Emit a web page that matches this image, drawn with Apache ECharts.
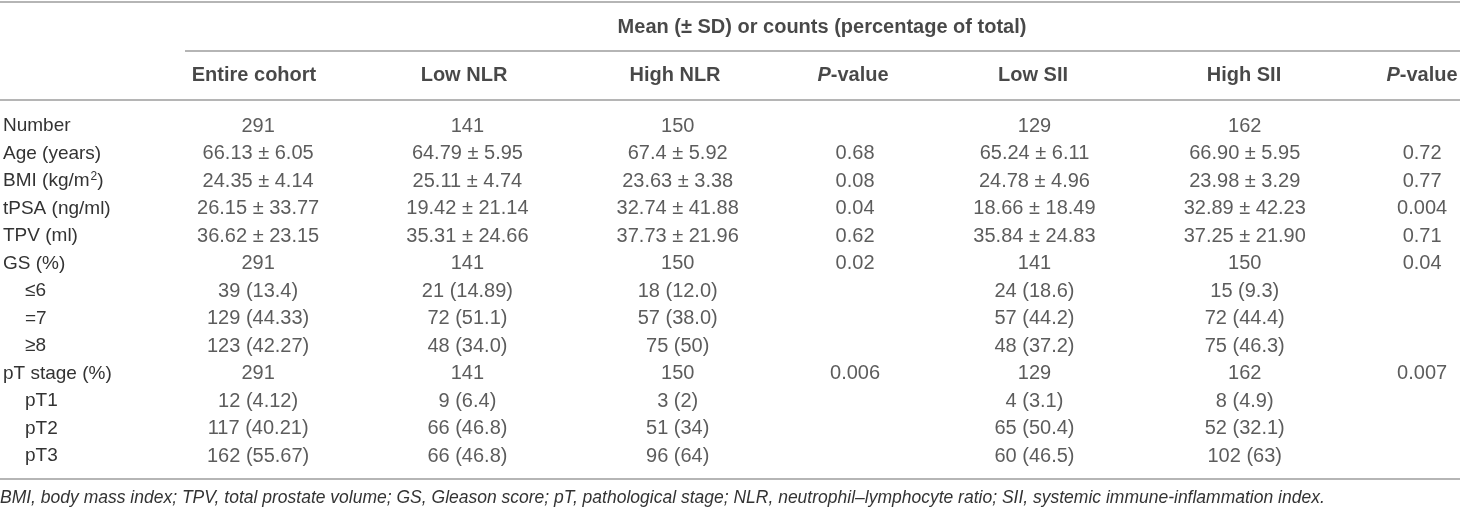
<!DOCTYPE html>
<html>
<head>
    <meta charset="utf-8">
    <title>Patient characteristics</title>
    <script src="https://cdn.jsdelivr.net/npm/echarts@6/dist/echarts.min.js"></script>
    <style>
        html, body { margin: 0; padding: 0; background: #fff; }
    </style>
</head>
<body>
<div id="main" style="width: 1460px;height:510px;"></div>
<script type="text/javascript">

    // table content
    var spanHeader = 'Mean (± SD) or counts (percentage of total)';
    var columns = ['Entire cohort', 'Low NLR', 'High NLR', 'P-value', 'Low SII', 'High SII', 'P-value'];
    var rowLabels = ['Number', 'Age (years)', 'BMI (kg/m^2)', 'tPSA (ng/ml)', 'TPV (ml)', 'GS (%)',
        '≤6', '=7', '≥8', 'pT stage (%)', 'pT1', 'pT2', 'pT3'];
    var subRow = [0, 0, 0, 0, 0, 0, 1, 1, 1, 0, 1, 1, 1];

    var entireCohort = ['291', '66.13 ± 6.05', '24.35 ± 4.14', '26.15 ± 33.77', '36.62 ± 23.15', '291',
        '39 (13.4)', '129 (44.33)', '123 (42.27)', '291', '12 (4.12)', '117 (40.21)', '162 (55.67)'];
    var lowNLR = ['141', '64.79 ± 5.95', '25.11 ± 4.74', '19.42 ± 21.14', '35.31 ± 24.66', '141',
        '21 (14.89)', '72 (51.1)', '48 (34.0)', '141', '9 (6.4)', '66 (46.8)', '66 (46.8)'];
    var highNLR = ['150', '67.4 ± 5.92', '23.63 ± 3.38', '32.74 ± 41.88', '37.73 ± 21.96', '150',
        '18 (12.0)', '57 (38.0)', '75 (50)', '150', '3 (2)', '51 (34)', '96 (64)'];
    var pNLR = ['', '0.68', '0.08', '0.04', '0.62', '0.02', '', '', '', '0.006', '', '', ''];
    var lowSII = ['129', '65.24 ± 6.11', '24.78 ± 4.96', '18.66 ± 18.49', '35.84 ± 24.83', '141',
        '24 (18.6)', '57 (44.2)', '48 (37.2)', '129', '4 (3.1)', '65 (50.4)', '60 (46.5)'];
    var highSII = ['162', '66.90 ± 5.95', '23.98 ± 3.29', '32.89 ± 42.23', '37.25 ± 21.90', '150',
        '15 (9.3)', '72 (44.4)', '75 (46.3)', '162', '8 (4.9)', '52 (32.1)', '102 (63)'];
    var pSII = ['', '0.72', '0.77', '0.004', '0.71', '0.04', '', '', '', '0.007', '', '', ''];

    var footnote = 'BMI, body mass index; TPV, total prostate volume; GS, Gleason score; pT, pathological stage; ' +
        'NLR, neutrophil–lymphocyte ratio; SII, systemic immune-inflammation index.';

    var cells = [entireCohort, lowNLR, highNLR, pNLR, lowSII, highSII, pSII];

    // layout (page units)
    var colX = [254, 464, 675, 853, 1033, 1244, 1422];
    var spanX = 822;
    var spanY = 27;
    var headY = 75;
    var rules = [[0, 2], [185, 51], [0, 100], [0, 479]];   // [start x, y]
    var FONT = '"Liberation Sans", Arial, Helvetica, sans-serif';

    var myChart = echarts.init(document.getElementById('main'));

    var headerData = [[spanX, spanY, spanHeader]];
    columns.forEach(function (c, i) {
        headerData.push([colX[i], headY, c]);
    });

    var series = [{
        type: 'scatter',
        xAxisIndex: 0,
        yAxisIndex: 0,
        symbolSize: 1,
        itemStyle: { color: 'transparent' },
        silent: true,
        data: headerData,
        label: {
            show: true,
            position: 'inside',
            color: '#1a1a1a',
            fontFamily: FONT,
            fontSize: 20,
            fontWeight: 'bold',
            formatter: function (p) {
                var t = p.data[2];
                if (t === 'P-value') return '{ip|P}-value';
                return t;
            },
            rich: {
                ip: { fontStyle: 'italic', fontWeight: 'bold', fontSize: 20, fontFamily: FONT, color: '#1a1a1a' }
            }
        },
        markLine: {
            silent: true,
            symbol: 'none',
            label: { show: false },
            lineStyle: { type: 'solid', color: '#9d9d9d', width: 1.5 },
            data: rules.map(function (r) {
                return [{ coord: [r[0], r[1]] }, { coord: [1460, r[1]] }];
            })
        }
    }];

    cells.forEach(function (col, c) {
        var d = [];
        col.forEach(function (v, i) {
            if (v !== '') d.push([colX[c], i, v]);
        });
        series.push({
            type: 'scatter',
            xAxisIndex: 1,
            yAxisIndex: 1,
            symbolSize: 1,
            itemStyle: { color: 'transparent' },
            silent: true,
            data: d,
            label: {
                show: true,
                position: 'inside',
                color: '#333',
                fontFamily: FONT,
                fontSize: 20,
                formatter: function (p) { return p.data[2]; }
            }
        });
    });

    myChart.setOption({
        animation: false,
        title: {
            text: footnote,
            left: 0,
            top: 489,
            padding: 0,
            textStyle: {
                fontFamily: FONT,
                fontSize: 17.5,
                fontStyle: 'italic',
                fontWeight: 'normal',
                color: '#333'
            }
        },
        grid: [
            { left: 0, right: 0, top: 0, bottom: 0 },
            { left: 0, right: 0, top: 112.25, height: 357.5 }
        ],
        xAxis: [
            { gridIndex: 0, type: 'value', min: 0, max: 1460, show: false },
            { gridIndex: 1, type: 'value', min: 0, max: 1460, show: false }
        ],
        yAxis: [
            { gridIndex: 0, type: 'value', min: 0, max: 510, inverse: true, show: false },
            {
                gridIndex: 1,
                type: 'category',
                data: rowLabels,
                inverse: true,
                axisLine: { show: false },
                axisTick: { show: false },
                splitLine: { show: false },
                axisLabel: {
                    inside: true,
                    margin: -2,
                    align: 'left',
                    color: '#333',
                    fontFamily: FONT,
                    fontSize: 19,
                    formatter: function (v, i) {
                        var t = v.replace('^2)', '{sup|2}{n|)}');
                        if (t !== v) t = '{n|' + t.split('{sup|')[0] + '}{sup|2}{n|)}';
                        return subRow[i] ? '{sub|' + t + '}' : t;
                    },
                    rich: {
                        sub: { padding: [0, 0, 0, 22], fontSize: 19, fontFamily: FONT, color: '#333' },
                        n: { fontSize: 19, fontFamily: FONT, color: '#333', verticalAlign: 'middle' },
                        sup: { fontSize: 12, fontFamily: FONT, color: '#333', verticalAlign: 'top', padding: [0, 0, 8, 1] }
                    }
                }
            }
        ],
        series: series
    });

</script>
</body>
</html>
